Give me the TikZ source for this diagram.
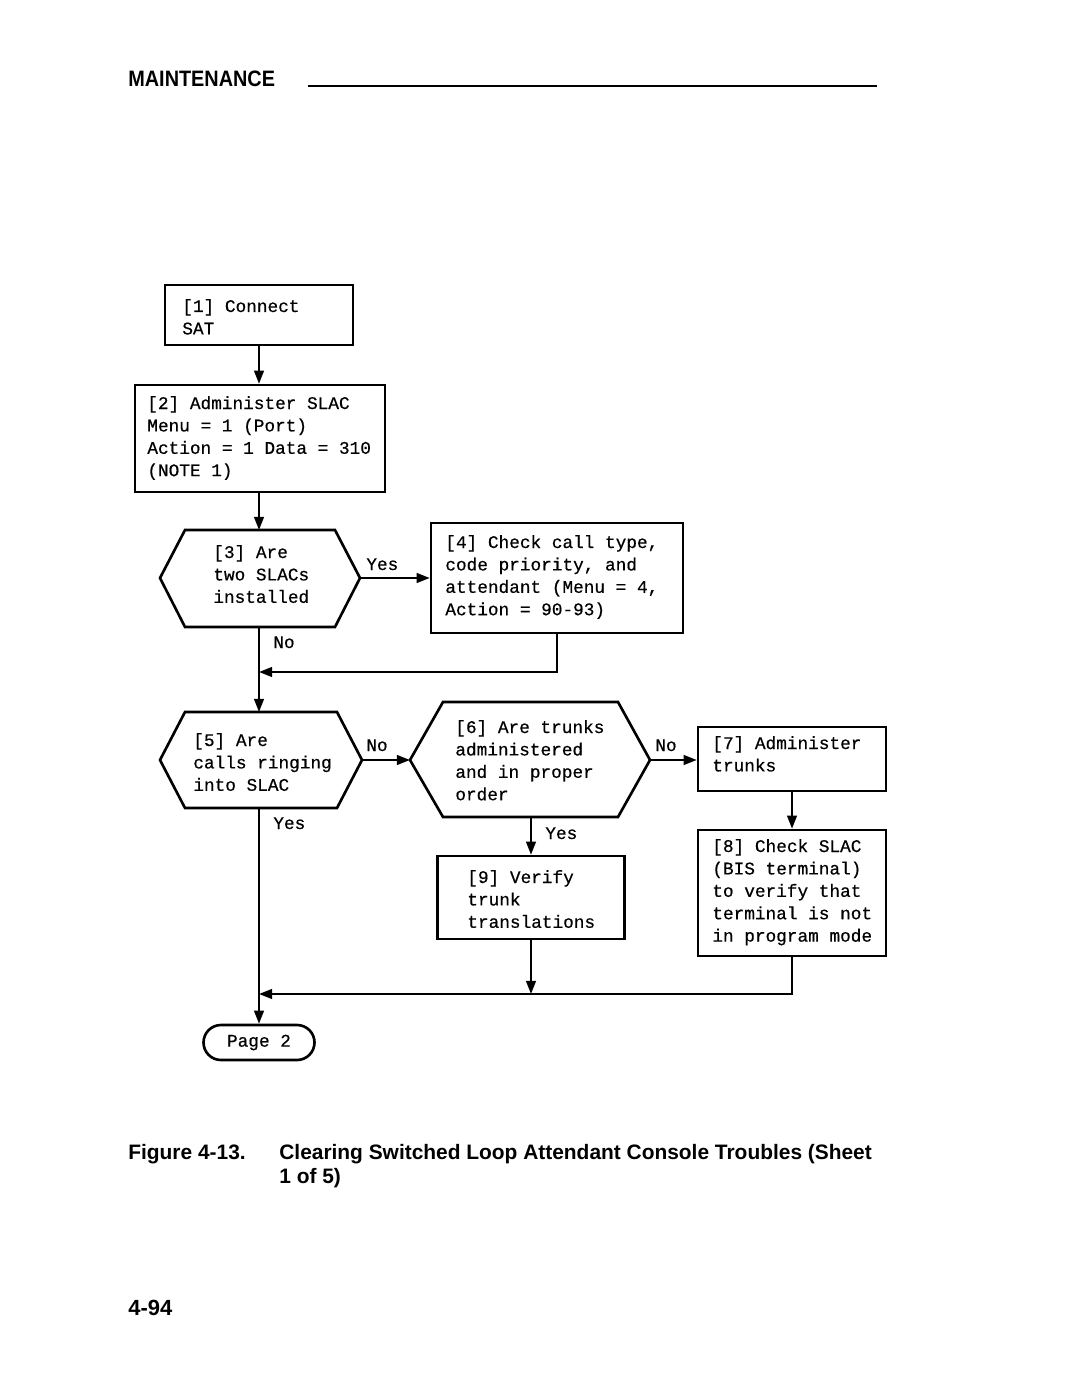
\documentclass[tikz,border=0pt]{standalone}
\usepackage{fontspec}
\usepackage{graphicx}
\setmainfont{Liberation Sans}
\newfontfamily\flowfont[FakeBold=0.5]{Liberation Mono}
\usetikzlibrary{arrows.meta,shapes.misc,calc}
\begin{document}
\begin{tikzpicture}[x=0.02cm,y=-0.02cm,
  box/.style={draw,line width=1.5pt,rectangle,inner sep=0pt},
  conn/.style={line width=1.1pt},
  arr/.style={conn,-{Triangle[length=7.5pt,width=5.6pt]}},
  txt/.style={anchor=base west,inner sep=0pt,font=\flowfont\fontsize{10.1}{12.75}\selectfont},
  hexa/.style={draw,line width=1.5pt,line join=miter},
  capt/.style={anchor=base west,inner sep=0pt,font=\bfseries\fontsize{11.9}{14}\selectfont}]
\useasboundingbox[fill=white] (0,0) rectangle (1080,1395);

% header
\node[anchor=base west,inner sep=0pt,font=\bfseries\fontsize{12.7}{14}\selectfont] (hdr) at (128,87) {\scalebox{0.89}[1]{MAINTENANCE}};
\coordinate (rl) at (308,86);
\coordinate (rr) at (877,86);
\draw[line width=1.6pt] (rl) -- (rr);

% boxes
\node[box,minimum width=188*0.02cm,minimum height=60*0.02cm] (b1) at (259,315) {};
\node[box,minimum width=250*0.02cm,minimum height=107*0.02cm] (b2) at (260,438.5) {};
\node[box,minimum width=252*0.02cm,minimum height=110*0.02cm] (b4) at (557,578) {};
\node[box,minimum width=188*0.02cm,minimum height=64*0.02cm] (b7) at (792,759) {};
\node[box,minimum width=188*0.02cm,minimum height=126*0.02cm] (b8) at (792,893) {};
\node[box,minimum width=187*0.02cm,minimum height=83*0.02cm] (b9) at (531,897.5) {};
\node[draw,rounded rectangle,line width=1.5pt,minimum width=111*0.02cm,minimum height=35*0.02cm,inner sep=0pt,font=\flowfont\fontsize{10.1}{12.75}\selectfont] (p2) at (259,1042.5) {Page 2};

% hexagon 3
\coordinate (h3l) at (160,578);
\coordinate (h3tl) at (185,530);
\coordinate (h3tr) at (335,530);
\coordinate (h3r) at (360,578);
\coordinate (h3br) at (335,627);
\coordinate (h3bl) at (185,627);
\coordinate (h3t) at (259,530);
\coordinate (h3b) at (259,627);
\draw[hexa] (h3l) -- (h3tl) -- (h3tr) -- (h3r) -- (h3br) -- (h3bl) -- cycle;

% hexagon 5
\coordinate (h5l) at (160,760);
\coordinate (h5tl) at (185,712);
\coordinate (h5tr) at (337,712);
\coordinate (h5r) at (362,760);
\coordinate (h5br) at (337,808);
\coordinate (h5bl) at (185,808);
\coordinate (h5t) at (259,712);
\coordinate (h5b) at (259,808);
\draw[hexa] (h5l) -- (h5tl) -- (h5tr) -- (h5r) -- (h5br) -- (h5bl) -- cycle;

% hexagon 6
\coordinate (h6l) at (410,760);
\coordinate (h6tl) at (443,702);
\coordinate (h6tr) at (618,702);
\coordinate (h6r) at (650,760);
\coordinate (h6br) at (618,817);
\coordinate (h6bl) at (443,817);
\coordinate (h6b) at (531,817);
\draw[hexa] (h6l) -- (h6tl) -- (h6tr) -- (h6r) -- (h6br) -- (h6bl) -- cycle;

% texts
\node[txt] (t1) at (182,312) {\vtop{\hbox{[1] Connect}\hbox{SAT}}};
\node[txt] (t2) at (147,409) {\vtop{\hbox{[2] Administer SLAC}\hbox{Menu = 1 (Port)}\hbox{Action = 1 Data = 310}\hbox{(NOTE 1)}}};
\node[txt] (t3) at (213,558) {\vtop{\hbox{[3] Are}\hbox{two SLACs}\hbox{installed}}};
\node[txt] (t4) at (445,548) {\vtop{\hbox{[4] Check call type,}\hbox{code priority, and}\hbox{attendant (Menu = 4,}\hbox{Action = 90-93)}}};
\node[txt] (t5) at (193,746) {\vtop{\hbox{[5] Are}\hbox{calls ringing}\hbox{into SLAC}}};
\node[txt] (t6) at (455,733) {\vtop{\hbox{[6] Are trunks}\hbox{administered}\hbox{and in proper}\hbox{order}}};
\node[txt] (t7) at (712,749) {\vtop{\hbox{[7] Administer}\hbox{trunks}}};
\node[txt] (t8) at (712,852) {\vtop{\hbox{[8] Check SLAC}\hbox{(BIS terminal)}\hbox{to verify that}\hbox{terminal is not}\hbox{in program mode}}};
\node[txt] (t9) at (467,883) {\vtop{\hbox{[9] Verify}\hbox{trunk}\hbox{translations}}};

% labels
\node[txt] (l3y) at (366,570) {Yes};
\node[txt] (l3n) at (273,648) {No};
\node[txt] (l5n) at (366,751) {No};
\node[txt] (l6n) at (655,751) {No};
\node[txt] (l5y) at (273,829) {Yes};
\node[txt] (l6y) at (545,839) {Yes};

% junctions
\coordinate (j1) at (259,672);
\coordinate (j2) at (259,994);

% connectors
\draw[arr] (b1.south) -- (b1.south |- b2.north);
\draw[arr] (h3t |- b2.south) -- (h3t);
\draw[arr] (h3r) -- (h3r -| b4.west);
\draw[arr] (h3b) -- (h5t);
\draw[arr] (b4.south) |- (j1);
\draw[arr] (h5r) -- (h6l);
\draw[arr] (h6r) -- (h6r -| b7.west);
\draw[arr] (b7.south) -- (b8.north);
\draw[arr] (h6b) -- (h6b |- b9.north);
\draw[arr] (b9.south) -- (b9.south |- j2);
\draw[arr] (b8.south) |- (j2);
\draw[arr] (h5b) -- (p2.north);

% caption
\node[capt] (figl) at (128,1159) {Figure 4-13.};
\node[capt] (cap1) at (279,1159) {Clearing Switched Loop Attendant Console Troubles (Sheet};
\node[capt] (cap2) at (279,1183) {1 of 5)};
\node[anchor=base west,inner sep=0pt,font=\bfseries\fontsize{12.5}{14}\selectfont] (pg) at (128,1315) {4-94};
\end{tikzpicture}
\end{document}
